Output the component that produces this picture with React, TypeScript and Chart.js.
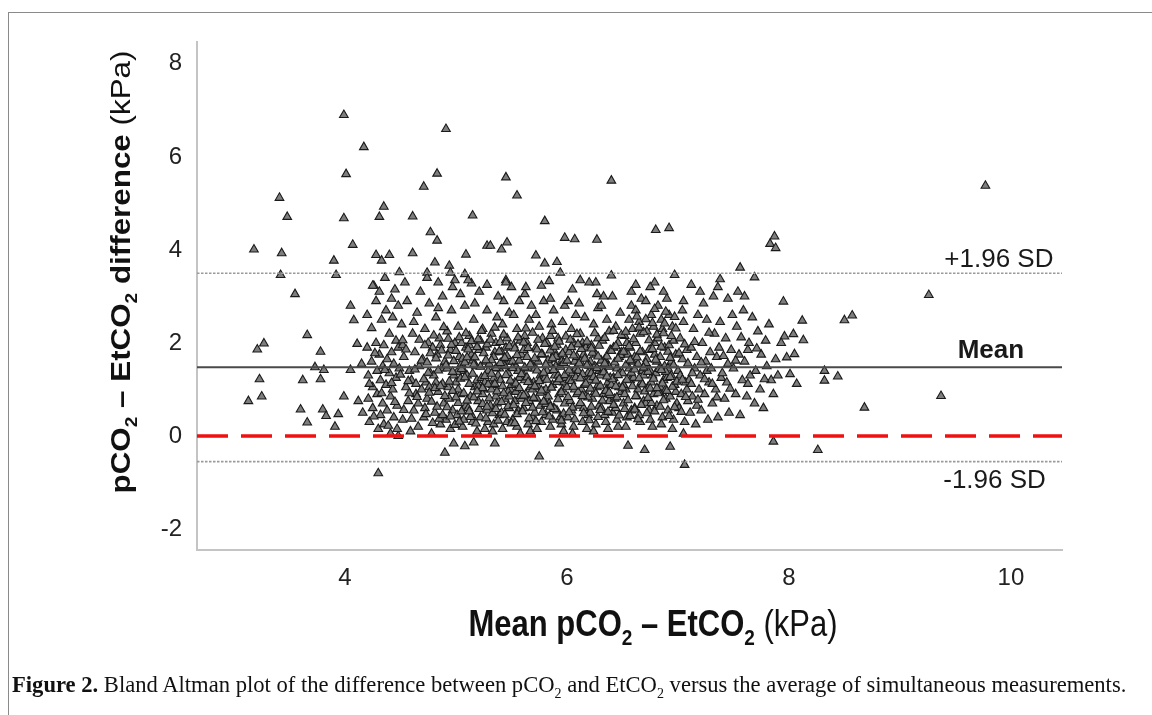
import React, { useEffect, useRef } from "react";
import { Chart, registerables } from "chart.js";

Chart.register(...registerables);

// ---------- data ----------
const xTicks = [4, 6, 8, 10];
const yTicks = [-2, 0, 2, 4, 6, 8];
const xRange = [2.667, 10.46];
const yRange = [-2.45, 8.47];

const meanDifference = 1.48;
const upperLimit = 3.5;
const lowerLimit = -0.55;
const zeroDifference = 0;

// [mean of pCO2 & EtCO2, pCO2 - EtCO2] (kPa)
const sparsePoints: [number, number][] = [
  [3.99, 6.9], [4.91, 6.6], [4.17, 6.21], [4.01, 5.63], [4.83, 5.64], [4.71, 5.36], [3.41, 5.12], [4.35, 4.93],
  [3.48, 4.71], [3.99, 4.68], [4.31, 4.71], [4.61, 4.72], [5.15, 4.74], [4.77, 4.38], [4.83, 4.2], [4.07, 4.11],
  [3.18, 4.01], [3.43, 3.93], [4.28, 3.89], [4.4, 3.89], [4.33, 3.77], [4.61, 3.93], [5.09, 3.9], [5.28, 4.09],
  [3.9, 3.77], [4.81, 3.73], [4.94, 3.66], [3.42, 3.46], [3.92, 3.46], [4.49, 3.52], [4.74, 3.51], [4.95, 3.51],
  [5.08, 3.48], [4.99, 3.35], [4.84, 3.3], [4.26, 3.23], [5.14, 3.28], [5.28, 3.25],
  [5.45, 5.56], [5.55, 5.17], [6.4, 5.49], [5.8, 4.62], [5.98, 4.26], [6.07, 4.23], [6.27, 4.22], [6.8, 4.43],
  [6.92, 4.47], [5.46, 4.16], [5.41, 4.01], [5.31, 4.09], [5.72, 3.88], [5.8, 3.71], [5.91, 3.74], [5.94, 3.51],
  [5.45, 3.35], [5.84, 3.33], [6.12, 3.35], [6.26, 3.3], [6.4, 3.45], [6.97, 3.46], [6.79, 3.3], [7.38, 3.37],
  [7.56, 3.62], [7.69, 3.41], [7.87, 4.29], [7.83, 4.13], [7.88, 4.04], [5.77, 3.23], [7.36, 3.2], [9.77, 5.38],
  [3.55, 3.05], [3.27, 1.99], [3.21, 1.86], [3.66, 2.17], [3.78, 1.81], [3.23, 1.22], [3.62, 1.2], [3.78, 1.22],
  [3.81, 1.42], [3.73, 1.48], [3.25, 0.85], [3.13, 0.75], [3.6, 0.57], [3.8, 0.57], [3.83, 0.43], [3.66, 0.29],
  [3.94, 0.47], [3.91, 0.2], [4.05, 2.8], [4.08, 2.49], [4.25, 3.23], [4.24, 2.32], [4.11, 1.98], [4.05, 1.42],
  [3.99, 0.85], [4.3, -0.8],
  [7.95, 2.89], [8.12, 2.48], [8.5, 2.49], [8.57, 2.59], [9.26, 3.03], [8.04, 2.19], [7.96, 2.14], [8.13, 2.06],
  [8.05, 1.76], [7.98, 1.69], [8.01, 1.33], [8.07, 1.12], [8.32, 1.4], [8.32, 1.19], [8.44, 1.28], [8.68, 0.61],
  [9.37, 0.86], [8.26, -0.3],
  [5.75, -0.44], [7.06, -0.62], [5.93, -0.16], [6.55, -0.21], [6.7, -0.3], [6.93, -0.23], [7.86, -0.12],
  [5.35, -0.16], [4.9, -0.36], [4.98, -0.16], [5.08, -0.22], [5.16, -0.14], [4.48, 0.0],
  [5.62, 3.05], [5.85, 2.95], [6.05, 3.15], [6.33, 3.0], [6.58, 3.1], [6.62, 3.25], [6.9, 2.95], [7.05, 2.9],
  [7.2, 3.1], [7.45, 2.95], [7.6, 3.0], [6.2, 3.3], [5.5, 3.2], [6.75, 3.2], [7.12, 3.25],
];

const leftClusterPoints: [number, number][] = [
  [4.12, 0.75], [4.15, 1.55], [4.16, 0.5], [4.2, 2.6], [4.2, 1.9], [4.21, 1.3], [4.21, 0.8], [4.22, 0.3],
  [4.24, 1.6], [4.25, 0.6], [4.25, 1.05], [4.28, 2.9], [4.28, 2.0], [4.29, 1.4], [4.29, 0.9], [4.3, 0.15],
  [4.31, 3.1], [4.31, 1.75], [4.32, 1.2], [4.32, 0.45], [4.33, 2.5], [4.34, 1.5], [4.34, 0.7], [4.35, 0.25],
  [4.35, 1.95], [4.36, 3.4], [4.37, 2.7], [4.37, 1.1], [4.38, 0.55], [4.38, 1.65], [4.4, 2.2], [4.4, 1.35],
  [4.41, 0.85], [4.41, 0.05], [4.42, 1.8], [4.42, 2.95], [4.43, 2.55], [4.43, 1.0], [4.44, 0.4], [4.44, 1.55],
  [4.45, 3.15], [4.46, 2.05], [4.46, 1.25], [4.47, 0.65], [4.47, 0.15], [4.48, 2.8], [4.48, 1.9], [4.49, 1.45],
  [4.51, 2.4], [4.52, 0.35], [4.53, 1.7], [4.55, 1.05], [4.56, 2.9], [4.57, 0.75], [4.58, 1.4], [4.59, 0.1],
  [4.54, 3.3], [4.52, 1.95],
  [4.6, 1.2], [4.61, 2.2], [4.62, 0.55], [4.63, 1.8], [4.64, 0.9], [4.65, 2.65], [4.66, 0.2], [4.67, 1.5],
  [4.68, 3.1], [4.69, 1.0], [4.62, 2.45], [4.66, 0.7],
  [4.7, 1.65], [4.71, 0.4], [4.72, 2.3], [4.73, 1.15], [4.74, 0.8], [4.75, 2.0], [4.76, 2.85], [4.77, 1.35],
  [4.78, 0.05], [4.79, 1.9], [4.72, 0.6], [4.76, 1.05], [4.74, 3.4],
  [4.8, 1.3], [4.81, 0.5], [4.82, 2.55], [4.83, 1.75], [4.84, 0.95], [4.85, 2.1], [4.86, 0.25], [4.87, 1.45],
  [4.88, 3.0], [4.89, 0.7], [4.82, 1.15], [4.86, 1.95], [4.84, 2.75],
  [4.9, 1.6], [4.91, 0.35], [4.92, 2.25], [4.93, 1.05], [4.94, 0.8], [4.95, 1.85], [4.96, 2.7], [4.97, 0.55],
  [4.98, 1.3], [4.99, 2.0], [4.92, 1.45], [4.95, 0.15], [4.97, 3.2],
  [4.22, 1.12], [4.26, 0.42], [4.27, 1.78], [4.33, 0.92], [4.36, 1.42], [4.39, 0.22], [4.42, 1.14], [4.45, 0.73],
  [4.5, 1.32], [4.53, 0.56], [4.55, 1.86], [4.57, 1.18], [4.6, 0.37], [4.63, 1.43], [4.65, 0.84], [4.67, 2.07],
  [4.69, 1.62], [4.52, 2.06], [4.58, 0.92], [4.64, 1.12],
];

const centreClusterPoints: [number, number][] = [
  [5.0, 1.15], [5.01, 0.45], [5.02, 2.35], [5.03, 1.7], [5.04, 0.9], [5.05, 2.0], [5.06, 0.2], [5.07, 1.4],
  [5.08, 2.8], [5.09, 0.65], [5.02, 1.0], [5.05, 1.55], [5.07, 0.35], [5.04, 3.05], [5.09, 1.9],
  [5.1, 1.3], [5.11, 0.6], [5.12, 2.15], [5.13, 0.85], [5.14, 1.75], [5.15, 0.3], [5.16, 2.5], [5.17, 1.05],
  [5.18, 1.5], [5.19, 0.1], [5.12, 1.95], [5.14, 0.45], [5.17, 2.85], [5.19, 1.2], [5.11, 3.35], [5.15, 1.62],
  [5.2, 0.75], [5.21, 1.85], [5.22, 0.4], [5.23, 1.25], [5.24, 2.3], [5.25, 1.0], [5.26, 0.15], [5.27, 1.6],
  [5.28, 2.7], [5.28, 0.55], [5.29, 1.4], [5.22, 2.05], [5.24, 0.9], [5.26, 1.15], [5.21, 3.1], [5.29, 0.3],
  [5.27, 1.9],
  [5.3, 1.55], [5.31, 0.65], [5.32, 2.2], [5.33, 1.1], [5.34, 0.25], [5.35, 1.8], [5.36, 0.85], [5.37, 2.55],
  [5.38, 1.3], [5.39, 0.45], [5.32, 1.0], [5.34, 1.7], [5.36, 2.0], [5.38, 3.0], [5.33, 0.1], [5.39, 1.45],
  [5.37, 0.7],
  [5.4, 1.2], [5.41, 0.5], [5.42, 2.4], [5.43, 1.65], [5.44, 0.8], [5.45, 1.9], [5.46, 0.3], [5.47, 1.35],
  [5.48, 2.65], [5.49, 1.0], [5.42, 0.15], [5.44, 1.5], [5.46, 2.1], [5.48, 0.6], [5.41, 1.8], [5.45, 3.3],
  [5.47, 0.95], [5.49, 1.6], [5.43, 2.9],
  [5.5, 1.1], [5.51, 0.35], [5.52, 1.95], [5.53, 0.75], [5.54, 1.5], [5.55, 2.3], [5.56, 0.55], [5.57, 1.25],
  [5.58, 0.05], [5.59, 1.75], [5.52, 2.6], [5.54, 0.95], [5.56, 1.4], [5.58, 2.05], [5.51, 1.6], [5.55, 0.2],
  [5.57, 2.9], [5.59, 0.8], [5.53, 1.15],
  [5.6, 1.35], [5.61, 0.6], [5.62, 2.15], [5.63, 0.9], [5.64, 1.7], [5.65, 0.25], [5.66, 2.5], [5.67, 1.05],
  [5.68, 1.55], [5.69, 0.4], [5.62, 1.2], [5.64, 2.0], [5.66, 0.75], [5.68, 2.8], [5.61, 1.85], [5.65, 1.45],
  [5.67, 0.1], [5.69, 1.0], [5.63, 3.2],
  [5.7, 1.15], [5.71, 0.5], [5.72, 1.9], [5.73, 0.8], [5.74, 1.6], [5.75, 2.35], [5.76, 1.3], [5.77, 0.3],
  [5.78, 1.75], [5.79, 0.95], [5.72, 2.6], [5.74, 1.05], [5.76, 0.65], [5.78, 2.1], [5.71, 1.45], [5.73, 0.15],
  [5.77, 1.2], [5.79, 2.9],
  [5.8, 1.25], [5.81, 0.45], [5.82, 2.0], [5.83, 0.85], [5.84, 1.55], [5.85, 0.2], [5.86, 2.4], [5.87, 1.1],
  [5.88, 0.6], [5.89, 1.8], [5.82, 1.4], [5.84, 0.7], [5.86, 1.65], [5.88, 2.7], [5.81, 1.0], [5.85, 2.15],
  [5.87, 0.35], [5.89, 1.3],
  [5.9, 1.5], [5.91, 0.55], [5.92, 2.1], [5.93, 0.9], [5.94, 1.7], [5.95, 0.25], [5.96, 2.45], [5.97, 1.15],
  [5.98, 0.7], [5.99, 1.85], [5.92, 1.3], [5.94, 0.4], [5.96, 1.0], [5.98, 2.8], [5.91, 1.95], [5.95, 1.6],
  [5.97, 0.1], [5.99, 1.25],
];

const centreExtraPoints: [number, number][] = [
  [4.71, 1.22], [4.73, 0.47], [4.74, 1.58], [4.76, 0.93], [4.77, 1.78], [4.79, 0.28], [4.8, 2.16], [4.81, 1.03],
  [4.83, 0.63], [4.84, 1.41], [4.85, 0.37], [4.87, 1.84], [4.88, 1.12], [4.89, 2.34], [4.9, 0.86], [4.91, 1.52],
  [4.92, 0.62], [4.93, 1.73], [4.94, 1.17], [4.95, 0.42], [4.96, 1.96], [4.97, 0.97], [4.98, 1.61], [4.99, 0.24],
  [5.0, 1.83], [5.01, 1.37], [5.02, 0.71], [5.03, 2.12], [5.04, 1.23], [5.05, 0.53], [5.06, 1.66], [4.72, 1.95],
  [4.75, 1.36], [4.78, 0.74], [4.82, 1.67], [4.86, 1.07], [4.88, 0.45], [4.93, 2.09], [4.97, 1.38], [5.0, 0.83],
  [5.03, 0.31], [5.05, 1.44],
  [5.07, 0.92], [5.08, 1.58], [5.09, 2.21], [5.1, 0.76], [5.11, 1.86], [5.12, 1.12], [5.13, 0.41], [5.14, 2.04],
  [5.15, 1.34], [5.16, 0.83], [5.17, 1.69], [5.18, 0.27], [5.19, 1.91], [5.2, 1.07], [5.21, 0.58], [5.22, 1.49],
  [5.23, 2.26], [5.24, 0.69], [5.25, 1.78], [5.26, 1.29], [5.27, 0.38], [5.28, 1.97], [5.29, 1.11], [5.3, 0.81],
  [5.31, 2.07], [5.32, 1.63], [5.33, 0.49], [5.34, 1.24], [5.35, 2.33], [5.36, 1.46], [5.37, 0.96], [5.38, 0.33],
  [5.39, 1.82], [5.4, 1.57], [5.41, 0.73], [5.42, 1.07], [5.43, 2.18], [5.44, 0.46], [5.45, 1.31], [5.46, 1.72],
  [5.47, 0.64], [5.48, 1.93], [5.49, 1.19], [5.5, 0.27], [5.08, 1.26], [5.12, 0.53], [5.16, 1.53], [5.2, 2.08],
  [5.24, 1.03], [5.28, 0.63], [5.32, 1.34], [5.36, 0.58], [5.4, 2.02], [5.44, 1.68], [5.48, 0.85], [5.1, 1.69],
  [5.19, 0.96], [5.27, 1.63], [5.35, 1.12], [5.43, 0.92],
  [5.51, 1.46], [5.52, 0.66], [5.53, 1.88], [5.54, 1.13], [5.55, 0.47], [5.56, 2.12], [5.57, 1.62], [5.58, 0.86],
  [5.59, 1.33], [5.6, 0.53], [5.61, 2.01], [5.62, 1.47], [5.63, 0.71], [5.64, 1.26], [5.65, 1.89], [5.66, 0.38],
  [5.67, 1.54], [5.68, 1.09], [5.69, 2.22], [5.7, 0.82], [5.71, 1.67], [5.72, 0.32], [5.73, 1.41], [5.74, 2.07],
  [5.75, 1.18], [5.76, 0.93], [5.77, 1.76], [5.78, 0.51], [5.79, 1.36], [5.8, 1.98], [5.81, 0.69], [5.82, 1.21],
  [5.83, 1.63], [5.84, 0.42], [5.85, 1.84], [5.86, 1.04], [5.87, 2.26], [5.88, 1.42], [5.89, 0.58], [5.9, 1.71],
  [5.91, 1.16], [5.92, 0.79], [5.93, 2.03], [5.94, 1.49], [5.95, 0.94], [5.96, 1.77], [5.97, 0.48], [5.98, 1.31],
  [5.99, 2.14], [5.53, 0.28], [5.57, 1.03], [5.61, 0.87], [5.65, 1.16], [5.69, 0.61], [5.73, 1.86], [5.77, 0.98],
  [5.81, 1.53], [5.85, 0.63], [5.89, 1.92], [5.93, 1.22], [5.97, 1.57], [5.55, 1.74], [5.63, 2.31], [5.71, 1.07],
  [5.79, 0.74], [5.87, 1.67], [5.95, 0.33],
];

const rightClusterPoints: [number, number][] = [
  [6.0, 1.05], [6.01, 0.4], [6.02, 1.8], [6.03, 0.75], [6.04, 2.3], [6.05, 1.35], [6.06, 0.2], [6.07, 1.6],
  [6.08, 2.6], [6.09, 0.9], [6.02, 1.2], [6.04, 0.55], [6.06, 2.0], [6.08, 1.45], [6.01, 2.9], [6.05, 0.05],
  [6.07, 1.0], [6.09, 1.7],
  [6.1, 1.4], [6.11, 0.65], [6.12, 2.2], [6.13, 1.0], [6.14, 0.3], [6.15, 1.75], [6.16, 2.55], [6.17, 0.85],
  [6.18, 1.25], [6.19, 0.45], [6.12, 1.6], [6.14, 2.0], [6.16, 1.1], [6.18, 0.15], [6.11, 2.85], [6.15, 0.6],
  [6.17, 1.9], [6.19, 1.35],
  [6.2, 1.2], [6.21, 0.5], [6.22, 1.95], [6.23, 0.8], [6.24, 2.4], [6.25, 1.5], [6.26, 0.25], [6.27, 1.05],
  [6.28, 2.1], [6.29, 0.65], [6.22, 1.35], [6.24, 0.1], [6.26, 1.75], [6.28, 2.75], [6.21, 1.6], [6.25, 0.95],
  [6.27, 3.05], [6.29, 1.4],
  [6.3, 1.3], [6.31, 0.6], [6.32, 2.05], [6.33, 0.9], [6.34, 1.65], [6.35, 0.3], [6.36, 2.5], [6.37, 1.15],
  [6.38, 0.75], [6.39, 1.85], [6.32, 1.45], [6.34, 0.45], [6.36, 1.0], [6.38, 2.25], [6.31, 2.8], [6.35, 1.55],
  [6.37, 0.15], [6.39, 1.25],
  [6.4, 1.1], [6.41, 0.5], [6.42, 1.9], [6.43, 0.8], [6.44, 2.35], [6.45, 1.45], [6.46, 0.2], [6.47, 1.7],
  [6.48, 2.65], [6.49, 0.95], [6.42, 1.25], [6.44, 0.6], [6.46, 2.0], [6.48, 1.35], [6.41, 3.0], [6.45, 0.35],
  [6.47, 1.05], [6.49, 1.8],
  [6.5, 1.35], [6.51, 0.7], [6.52, 2.15], [6.53, 1.0], [6.54, 0.4], [6.55, 1.75], [6.56, 2.5], [6.57, 1.2],
  [6.58, 0.55], [6.59, 1.6], [6.52, 0.9], [6.54, 2.0], [6.56, 1.45], [6.58, 2.8], [6.51, 1.1], [6.53, 0.2],
  [6.57, 1.9], [6.59, 2.3],
  [6.6, 1.25], [6.61, 0.6], [6.62, 2.0], [6.63, 0.85], [6.64, 1.55], [6.65, 2.45], [6.66, 0.3], [6.67, 1.15],
  [6.68, 1.8], [6.69, 0.75], [6.62, 2.7], [6.64, 1.0], [6.66, 2.2], [6.68, 1.4], [6.61, 1.7], [6.65, 0.45],
  [6.67, 2.95], [6.69, 1.3],
  [6.7, 1.5], [6.71, 0.7], [6.72, 2.25], [6.73, 1.05], [6.74, 1.85], [6.75, 0.35], [6.76, 2.6], [6.77, 1.3],
  [6.78, 0.9], [6.79, 2.0], [6.72, 1.65], [6.74, 0.55], [6.76, 1.15], [6.78, 2.35], [6.71, 2.9], [6.75, 1.4],
  [6.77, 0.2], [6.79, 1.75],
  [6.8, 1.35], [6.81, 0.65], [6.82, 2.1], [6.83, 0.95], [6.84, 1.7], [6.85, 2.5], [6.86, 0.4], [6.87, 1.2],
  [6.88, 1.9], [6.89, 0.8], [6.82, 2.8], [6.84, 1.05], [6.86, 2.3], [6.88, 1.5], [6.81, 1.6], [6.85, 0.25],
  [6.87, 3.1], [6.89, 1.0],
  [6.9, 1.25], [6.91, 0.55], [6.92, 1.95], [6.93, 0.85], [6.94, 1.6], [6.95, 2.35], [6.96, 0.35], [6.97, 1.1],
  [6.98, 1.75], [6.99, 0.7], [6.92, 2.6], [6.94, 1.3], [6.96, 2.05], [6.98, 0.95], [6.91, 1.45], [6.95, 0.15],
  [7.0, 1.4], [7.01, 0.6], [7.02, 2.1], [7.03, 0.9], [7.04, 1.65], [7.05, 2.45], [7.06, 0.3], [7.07, 1.15],
  [7.08, 1.85], [7.09, 0.75], [7.02, 1.3], [7.04, 2.7], [7.08, 1.0], [7.05, 0.05],
  [7.1, 1.2], [7.11, 0.5], [7.12, 1.9], [7.13, 0.85], [7.14, 2.3], [7.15, 1.45], [7.16, 0.25], [7.17, 1.7],
  [7.18, 2.6], [7.19, 1.0], [7.13, 1.35], [7.17, 0.65],
  [7.2, 1.3], [7.21, 0.55], [7.22, 2.0], [7.24, 0.9], [7.25, 1.6], [7.26, 2.5], [7.27, 0.35], [7.28, 1.15],
  [7.29, 1.8], [7.23, 2.85], [7.26, 1.4],
  [7.3, 1.45], [7.31, 0.7], [7.33, 2.2], [7.34, 1.0], [7.35, 1.7], [7.36, 0.4], [7.38, 2.45], [7.39, 1.25],
  [7.32, 3.0], [7.37, 1.9],
  [7.4, 1.35], [7.42, 0.8], [7.43, 2.1], [7.45, 1.55], [7.46, 0.5], [7.48, 1.85], [7.49, 2.6], [7.44, 1.15],
  [7.5, 1.45], [7.52, 0.9], [7.53, 2.35], [7.55, 1.75], [7.56, 0.45], [7.58, 1.2], [7.59, 2.7], [7.54, 3.1],
  [7.6, 1.6], [7.62, 0.85], [7.64, 2.0], [7.65, 1.3], [7.67, 2.55], [7.69, 0.7], [7.63, 1.85],
  [7.7, 1.4], [7.72, 2.25], [7.74, 1.0], [7.75, 1.75], [7.77, 0.6], [7.79, 2.05],
  [7.8, 1.5], [7.82, 2.4], [7.84, 1.2], [7.86, 0.9], [7.88, 1.65],
  [7.9, 1.3], [7.93, 2.0],
];

const rightExtraPoints: [number, number][] = [
  [6.0, 1.62], [6.01, 0.84], [6.02, 1.41], [6.03, 2.07], [6.04, 1.18], [6.05, 0.61], [6.06, 1.73], [6.07, 0.36],
  [6.08, 1.26], [6.09, 2.19], [6.1, 0.94], [6.11, 1.56], [6.12, 0.71], [6.13, 1.87], [6.14, 1.33], [6.15, 0.49],
  [6.16, 1.66], [6.17, 1.13], [6.18, 2.03], [6.19, 0.83], [6.2, 1.51], [6.21, 1.02], [6.22, 0.63], [6.23, 1.79],
  [6.24, 1.27], [6.25, 2.21], [6.26, 0.91], [6.27, 1.46], [6.28, 0.41], [6.29, 1.94], [6.3, 1.08], [6.31, 1.62],
  [6.32, 0.76], [6.33, 1.37], [6.34, 2.11], [6.35, 0.97], [6.36, 1.71], [6.37, 0.52], [6.38, 1.49], [6.39, 0.88],
  [6.4, 1.83], [6.41, 1.22], [6.42, 0.67], [6.43, 1.58], [6.44, 1.93], [6.45, 0.83], [6.46, 1.31], [6.47, 0.44],
  [6.48, 1.74], [6.49, 2.17], [6.02, 0.51], [6.06, 1.06], [6.1, 1.97], [6.14, 0.86], [6.18, 1.52], [6.22, 1.88],
  [6.26, 1.19], [6.3, 0.56], [6.34, 1.56], [6.38, 0.93], [6.42, 2.26], [6.46, 1.66], [6.04, 1.91], [6.12, 1.24],
  [6.2, 0.34], [6.28, 1.71], [6.36, 1.28], [6.44, 1.07],
  [6.5, 1.04], [6.51, 1.81], [6.52, 0.58], [6.53, 1.52], [6.54, 1.21], [6.55, 0.77], [6.56, 1.93], [6.57, 0.43],
  [6.58, 1.36], [6.59, 1.07], [6.6, 2.08], [6.61, 1.43], [6.62, 0.86], [6.63, 1.69], [6.64, 0.36], [6.65, 1.24],
  [6.66, 1.82], [6.67, 0.67], [6.68, 1.11], [6.69, 2.23], [6.7, 0.96], [6.71, 1.57], [6.72, 0.49], [6.73, 1.38],
  [6.74, 2.06], [6.75, 1.02], [6.76, 0.71], [6.77, 1.87], [6.78, 1.23], [6.79, 0.53], [6.8, 1.64], [6.81, 2.18],
  [6.82, 0.92], [6.83, 1.44], [6.84, 0.63], [6.85, 1.92], [6.86, 1.13], [6.87, 0.77], [6.88, 2.42], [6.89, 1.38],
  [6.9, 0.97], [6.91, 1.81], [6.92, 0.43], [6.93, 1.27], [6.94, 2.15], [6.95, 1.06], [6.96, 1.52], [6.97, 0.62],
  [6.98, 2.31], [6.99, 1.17], [7.01, 1.78], [7.03, 0.52], [7.04, 1.21], [7.06, 1.97], [7.07, 0.84], [7.09, 1.56],
  [6.53, 2.24], [6.57, 1.63], [6.61, 0.57], [6.65, 2.33], [6.69, 1.47], [6.73, 0.82], [6.77, 2.43], [6.81, 1.03],
  [6.85, 1.42], [6.89, 2.67], [6.93, 1.68], [6.97, 2.56], [6.63, 2.57], [6.71, 2.51], [6.79, 2.73], [6.87, 2.21],
  [7.12, 1.12], [7.15, 2.02], [7.18, 0.78], [7.21, 1.58], [7.24, 1.22], [7.28, 2.22], [7.31, 1.12], [7.35, 0.83],
  [7.41, 1.72], [7.47, 1.02], [7.52, 1.62], [7.57, 2.12], [7.63, 1.12], [7.71, 1.88], [7.78, 1.22],
];

const SANS = '"Liberation Sans", Arial, Helvetica, sans-serif';

type Seg = { t: string; bold?: boolean; sub?: boolean };

const yTitle: Seg[] = [
  { t: "pCO", bold: true }, { t: "2", bold: true, sub: true }, { t: " – EtCO", bold: true },
  { t: "2", bold: true, sub: true }, { t: " difference ", bold: true }, { t: "(kPa)" },
];
const xTitle: Seg[] = [
  { t: "Mean pCO", bold: true }, { t: "2", bold: true, sub: true }, { t: " – EtCO", bold: true },
  { t: "2", bold: true, sub: true }, { t: " (kPa)" },
];

function drawRich(ctx: CanvasRenderingContext2D, segs: Seg[], size: number) {
  const fontOf = (s: Seg) => `${s.bold ? "bold " : ""}${s.sub ? Math.round(size * 0.62) : size}px ${SANS}`;
  const widths = segs.map((s) => {
    ctx.font = fontOf(s);
    return ctx.measureText(s.t).width;
  });
  const total = widths.reduce((a, b) => a + b, 0);
  let x = -total / 2;
  ctx.textAlign = "left";
  ctx.textBaseline = "alphabetic";
  segs.forEach((s, i) => {
    ctx.font = fontOf(s);
    ctx.fillText(s.t, x, s.sub ? size * 0.24 : 0);
    x += widths[i];
  });
}

const decorPlugin = {
  id: "decor",
  afterDraw(chart: any) {
    const ctx: CanvasRenderingContext2D = chart.ctx;
    const xs = chart.scales.x;
    const ys = chart.scales.y;
    ctx.save();
    ctx.fillStyle = "#111";
    ctx.save();
    ctx.translate(130, 272);
    ctx.rotate(-Math.PI / 2);
    ctx.scale(1.12, 1);
    drawRich(ctx, yTitle, 28);
    ctx.restore();
    ctx.save();
    ctx.translate(653, 636);
    ctx.scale(1, 1.2);
    drawRich(ctx, xTitle, 31);
    ctx.restore();
    ctx.fillStyle = "#1a1a1a";
    ctx.textAlign = "left";
    ctx.textBaseline = "alphabetic";
    ctx.font = `26px ${SANS}`;
    ctx.fillText("+1.96 SD", xs.getPixelForValue(9.4), ys.getPixelForValue(upperLimit) - 6);
    ctx.fillText("-1.96 SD", xs.getPixelForValue(9.39), ys.getPixelForValue(lowerLimit) + 26);
    ctx.font = `bold 26px ${SANS}`;
    ctx.fillText("Mean", xs.getPixelForValue(9.52), ys.getPixelForValue(meanDifference) - 9);
    ctx.restore();
  },
};

const hLine = (y: number) => [
  { x: xRange[0], y },
  { x: xRange[1], y },
];

export default function App() {
  const ref = useRef<HTMLCanvasElement | null>(null);

  useEffect(() => {
    if (!ref.current) return;
    const points = [
      ...sparsePoints,
      ...leftClusterPoints,
      ...centreClusterPoints,
      ...centreExtraPoints,
      ...rightClusterPoints,
      ...rightExtraPoints,
    ].map(([x, y]) => ({ x, y }));
    const chart = new Chart(ref.current, {
      type: "scatter",
      data: {
        datasets: [
          {
            type: "line",
            label: "zero",
            data: hLine(zeroDifference),
            borderColor: "#f01010",
            borderWidth: 3.5,
            borderDash: [31, 13],
            pointRadius: 0,
            order: 0,
          },
          {
            type: "line",
            label: "mean",
            data: hLine(meanDifference),
            borderColor: "#4a4a4a",
            borderWidth: 2,
            pointRadius: 0,
            order: 1,
          },
          {
            type: "line",
            label: "upper",
            data: hLine(upperLimit),
            borderColor: "#9a9a9a",
            borderWidth: 1.6,
            borderDash: [2.5, 1.5],
            pointRadius: 0,
            order: 2,
          },
          {
            type: "line",
            label: "lower",
            data: hLine(lowerLimit),
            borderColor: "#9a9a9a",
            borderWidth: 1.6,
            borderDash: [2.5, 1.5],
            pointRadius: 0,
            order: 3,
          },
          {
            label: "differences",
            data: points,
            pointStyle: "triangle",
            pointRadius: 5,
            backgroundColor: "#7e7e7e",
            borderColor: "#1a1a1a",
            borderWidth: 1.1,
            order: 10,
          },
        ],
      } as any,
      options: {
        responsive: false,
        animation: false,
        devicePixelRatio: 1,
        layout: { padding: { top: 42, right: 90, left: 0, bottom: 0 } },
        plugins: { legend: { display: false }, tooltip: { enabled: false } },
        scales: {
          x: {
            type: "linear",
            min: xRange[0],
            max: xRange[1],
            grid: { display: false, drawTicks: false },
            border: { display: true, color: "#c4c4c4", width: 2 },
            ticks: { font: { family: SANS, size: 24 }, color: "#222", padding: 14 },
            afterBuildTicks: (s: any) => {
              s.ticks = xTicks.map((v) => ({ value: v }));
            },
            afterFit: (s: any) => {
              s.height = 165;
            },
          },
          y: {
            type: "linear",
            min: yRange[0],
            max: yRange[1],
            grid: { display: false, drawTicks: false },
            border: { display: true, color: "#c4c4c4", width: 2 },
            ticks: { font: { family: SANS, size: 24 }, color: "#222", padding: 15 },
            afterBuildTicks: (s: any) => {
              s.ticks = yTicks.map((v) => ({ value: v }));
            },
            afterFit: (s: any) => {
              s.width = 197;
            },
          },
        },
      } as any,
      plugins: [decorPlugin],
    });
    return () => chart.destroy();
  }, []);

  return (
    <div style={{ position: "absolute", left: 0, top: 0, width: 1152, height: 715, overflow: "hidden", background: "#fff" }}>
      <div
        style={{
          position: "absolute",
          left: 8,
          top: 12,
          width: 1150,
          height: 710,
          borderLeft: "1px solid #8a8a8a",
          borderTop: "1px solid #8a8a8a",
        }}
      />
      <canvas ref={ref} width={1152} height={715} style={{ position: "absolute", left: 0, top: 0 }} />
      <div
        style={{
          position: "absolute",
          left: 12,
          top: 672,
          whiteSpace: "nowrap",
          fontFamily: '"Liberation Serif", "Times New Roman", serif',
          fontSize: 22.6,
          color: "#111",
        }}
      >
        <b>Figure 2.</b> Bland Altman plot of the difference between pCO<sub style={{ fontSize: 14 }}>2</sub> and EtCO
        <sub style={{ fontSize: 14 }}>2</sub> versus the average of simultaneous measurements.
      </div>
    </div>
  );
}
